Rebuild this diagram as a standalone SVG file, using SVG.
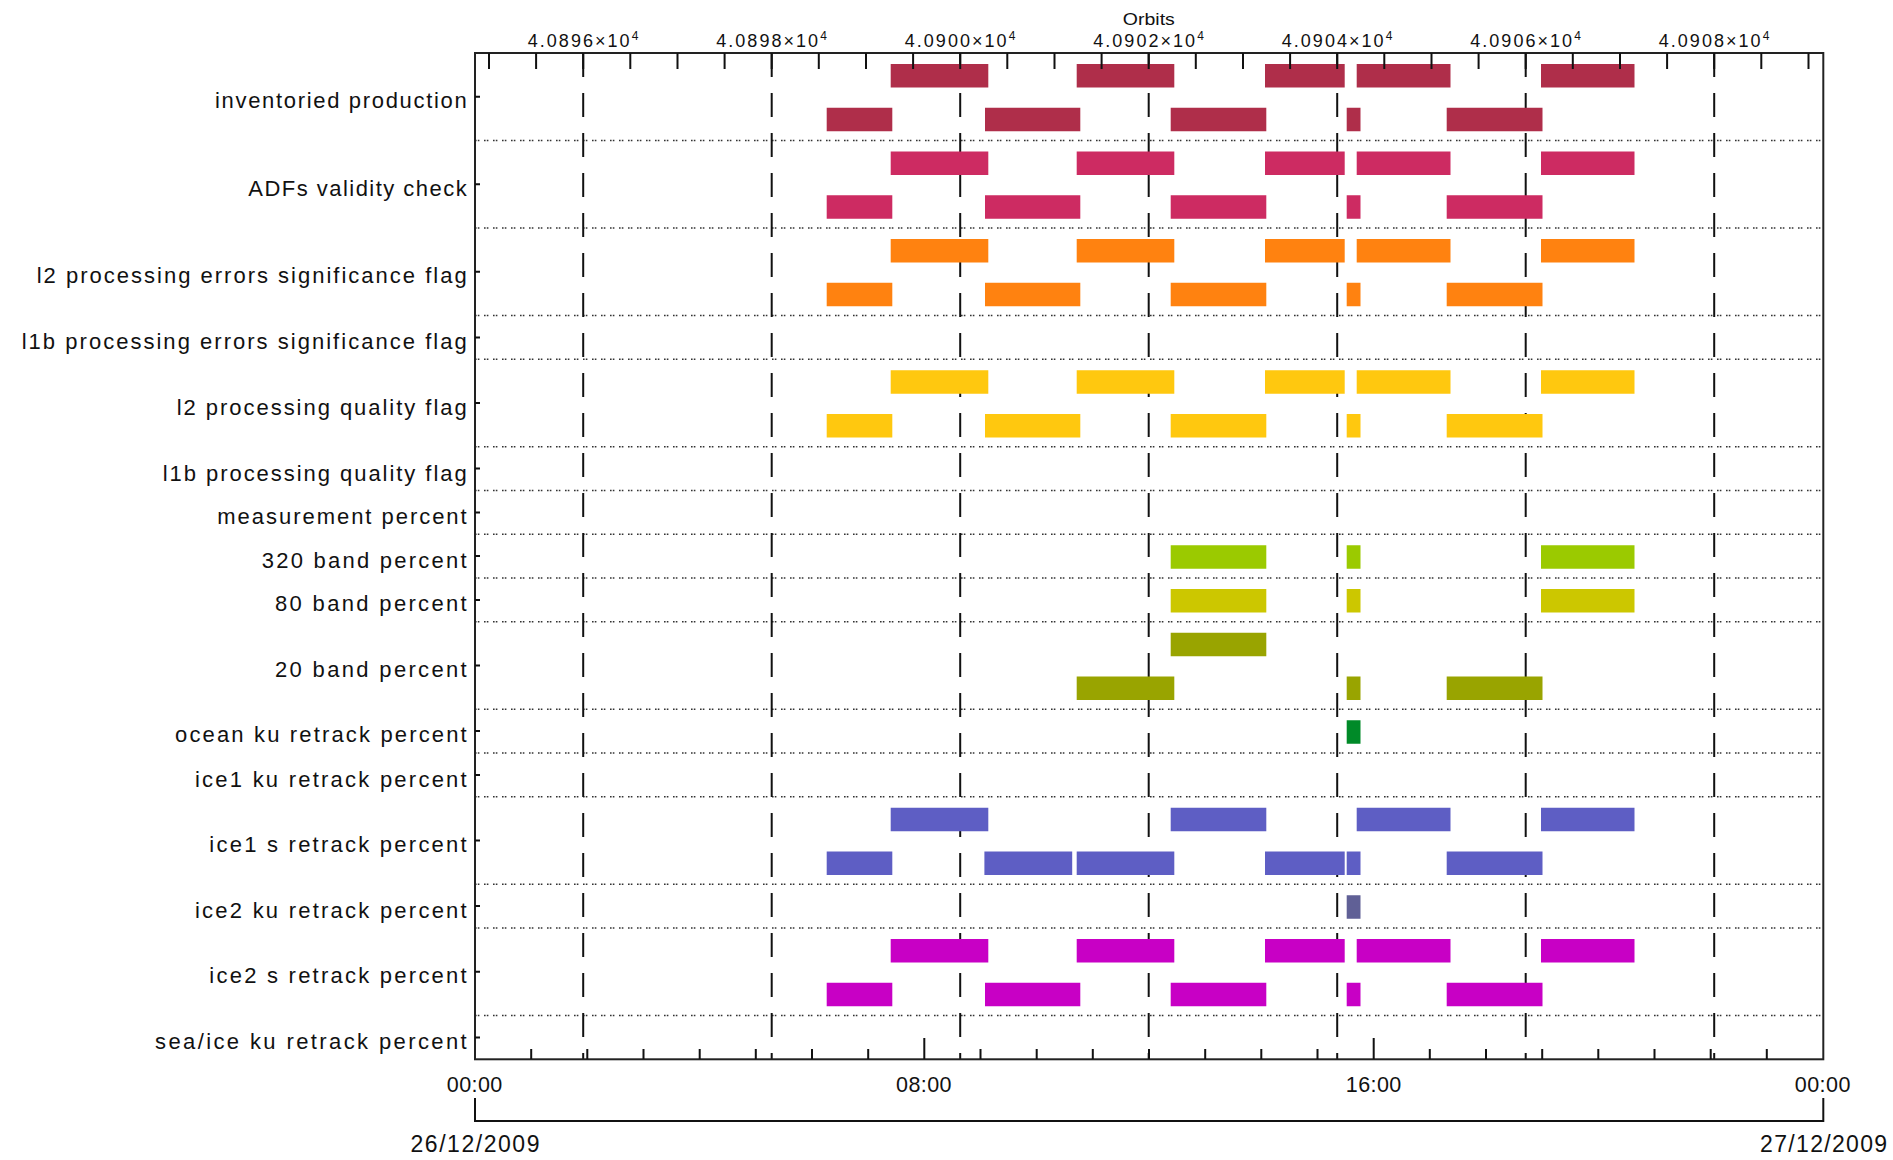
<svg xmlns="http://www.w3.org/2000/svg" width="1893" height="1160" viewBox="0 0 1893 1160">
<style>
text{font-family:"Liberation Sans","DejaVu Sans",Arial,sans-serif;fill:#111}
.lbl{font-size:22px;text-anchor:end}
.top{font-size:18px}
.sup{font-size:12px}
.tm{font-size:21.5px;text-anchor:middle}
.dt{font-size:23px;text-anchor:middle}
.dot{stroke:#333;stroke-width:1.6;stroke-dasharray:1.6 1.2 1.6 4.6;fill:none}
.dash{stroke:#111;stroke-width:2;stroke-dasharray:24 16;fill:none}
.tick{stroke:#111;stroke-width:2;fill:none}
.r1{fill:#AF2E4A}.r2{fill:#CD2B62}.r3{fill:#FF8210}.r5{fill:#FFC80F}
.r8{fill:#9BCA00}.r9{fill:#CCC700}.r10{fill:#99A400}.r11{fill:#008A28}
.r13{fill:#5E5EC4}.r14{fill:#606096}.r15{fill:#C800C5}
</style>
<rect width="1893" height="1160" fill="#fff"/>
<g id="grid">
<path class="dot" d="M475,140.5H1823M475,228H1823M475,315.5H1823M475,359.25H1823M475,446.75H1823M475,490.5H1823M475,534.25H1823M475,578H1823M475,621.75H1823M475,709.25H1823M475,753H1823M475,796.75H1823M475,884.25H1823M475,928H1823M475,1015.5H1823"/>
<path class="dash" d="M583.2,53V1059M771.7,53V1059M960.2,53V1059M1148.7,53V1059M1337.2,53V1059M1525.7,53V1059M1714.2,53V1059"/>
</g>
<g id="row-inventoried-production">
<rect class="r1" x="890.7" y="64" width="97.6" height="23.5"/><rect class="r1" x="1076.7" y="64" width="97.6" height="23.5"/><rect class="r1" x="1265" y="64" width="79.7" height="23.5"/><rect class="r1" x="1356.7" y="64" width="93.8" height="23.5"/><rect class="r1" x="1541" y="64" width="93.5" height="23.5"/>
<rect class="r1" x="826.7" y="107.75" width="65.6" height="23.5"/><rect class="r1" x="985" y="107.75" width="95.3" height="23.5"/><rect class="r1" x="1170.7" y="107.75" width="95.6" height="23.5"/><rect class="r1" x="1346.7" y="107.75" width="13.8" height="23.5"/><rect class="r1" x="1446.7" y="107.75" width="95.8" height="23.5"/>
</g>
<g id="row-adfs-validity-check">
<rect class="r2" x="890.7" y="151.5" width="97.6" height="23.5"/><rect class="r2" x="1076.7" y="151.5" width="97.6" height="23.5"/><rect class="r2" x="1265" y="151.5" width="79.7" height="23.5"/><rect class="r2" x="1356.7" y="151.5" width="93.8" height="23.5"/><rect class="r2" x="1541" y="151.5" width="93.5" height="23.5"/>
<rect class="r2" x="826.7" y="195.25" width="65.6" height="23.5"/><rect class="r2" x="985" y="195.25" width="95.3" height="23.5"/><rect class="r2" x="1170.7" y="195.25" width="95.6" height="23.5"/><rect class="r2" x="1346.7" y="195.25" width="13.8" height="23.5"/><rect class="r2" x="1446.7" y="195.25" width="95.8" height="23.5"/>
</g>
<g id="row-l2-processing-errors">
<rect class="r3" x="890.7" y="239" width="97.6" height="23.5"/><rect class="r3" x="1076.7" y="239" width="97.6" height="23.5"/><rect class="r3" x="1265" y="239" width="79.7" height="23.5"/><rect class="r3" x="1356.7" y="239" width="93.8" height="23.5"/><rect class="r3" x="1541" y="239" width="93.5" height="23.5"/>
<rect class="r3" x="826.7" y="282.75" width="65.6" height="23.5"/><rect class="r3" x="985" y="282.75" width="95.3" height="23.5"/><rect class="r3" x="1170.7" y="282.75" width="95.6" height="23.5"/><rect class="r3" x="1346.7" y="282.75" width="13.8" height="23.5"/><rect class="r3" x="1446.7" y="282.75" width="95.8" height="23.5"/>
</g>
<g id="row-l2-processing-quality">
<rect class="r5" x="890.7" y="370.25" width="97.6" height="23.5"/><rect class="r5" x="1076.7" y="370.25" width="97.6" height="23.5"/><rect class="r5" x="1265" y="370.25" width="79.7" height="23.5"/><rect class="r5" x="1356.7" y="370.25" width="93.8" height="23.5"/><rect class="r5" x="1541" y="370.25" width="93.5" height="23.5"/>
<rect class="r5" x="826.7" y="414" width="65.6" height="23.5"/><rect class="r5" x="985" y="414" width="95.3" height="23.5"/><rect class="r5" x="1170.7" y="414" width="95.6" height="23.5"/><rect class="r5" x="1346.7" y="414" width="13.8" height="23.5"/><rect class="r5" x="1446.7" y="414" width="95.8" height="23.5"/>
</g>
<g id="row-320-band">
<rect class="r8" x="1170.7" y="545.25" width="95.6" height="23.5"/><rect class="r8" x="1346.7" y="545.25" width="13.8" height="23.5"/><rect class="r8" x="1541" y="545.25" width="93.5" height="23.5"/>
</g>
<g id="row-80-band">
<rect class="r9" x="1170.7" y="589" width="95.6" height="23.5"/><rect class="r9" x="1346.7" y="589" width="13.8" height="23.5"/><rect class="r9" x="1541" y="589" width="93.5" height="23.5"/>
</g>
<g id="row-20-band">
<rect class="r10" x="1170.7" y="632.75" width="95.6" height="23.5"/>
<rect class="r10" x="1076.7" y="676.5" width="97.6" height="23.5"/><rect class="r10" x="1346.7" y="676.5" width="13.8" height="23.5"/><rect class="r10" x="1446.7" y="676.5" width="95.8" height="23.5"/>
</g>
<g id="row-ocean-ku">
<rect class="r11" x="1346.7" y="720.25" width="13.8" height="23.5"/>
</g>
<g id="row-ice1-s">
<rect class="r13" x="890.7" y="807.75" width="97.6" height="23.5"/><rect class="r13" x="1170.7" y="807.75" width="95.6" height="23.5"/><rect class="r13" x="1356.7" y="807.75" width="93.8" height="23.5"/><rect class="r13" x="1541" y="807.75" width="93.5" height="23.5"/>
<rect class="r13" x="826.7" y="851.5" width="65.6" height="23.5"/><rect class="r13" x="984.4" y="851.5" width="87.8" height="23.5"/><rect class="r13" x="1076.7" y="851.5" width="97.6" height="23.5"/><rect class="r13" x="1265" y="851.5" width="79.7" height="23.5"/><rect class="r13" x="1346.7" y="851.5" width="13.8" height="23.5"/><rect class="r13" x="1446.7" y="851.5" width="95.8" height="23.5"/>
</g>
<g id="row-ice2-ku">
<rect class="r14" x="1346.7" y="895.25" width="13.8" height="23.5"/>
</g>
<g id="row-ice2-s">
<rect class="r15" x="890.7" y="939" width="97.6" height="23.5"/><rect class="r15" x="1076.7" y="939" width="97.6" height="23.5"/><rect class="r15" x="1265" y="939" width="79.7" height="23.5"/><rect class="r15" x="1356.7" y="939" width="93.8" height="23.5"/><rect class="r15" x="1541" y="939" width="93.5" height="23.5"/>
<rect class="r15" x="826.7" y="982.75" width="65.6" height="23.5"/><rect class="r15" x="985" y="982.75" width="95.3" height="23.5"/><rect class="r15" x="1170.7" y="982.75" width="95.6" height="23.5"/><rect class="r15" x="1346.7" y="982.75" width="13.8" height="23.5"/><rect class="r15" x="1446.7" y="982.75" width="95.8" height="23.5"/>
</g>
<g id="axes">
<rect x="475" y="53" width="1348.3" height="1006.3" fill="none" stroke="#222" stroke-width="2"/>
<path class="tick" d="M489,53v16M536.1,53v16M583.2,53v16M630.3,53v16M677.5,53v16M724.6,53v16M771.7,53v16M818.8,53v16M866,53v16M913.1,53v16M960.2,53v16M1007.3,53v16M1054.5,53v16M1101.6,53v16M1148.7,53v16M1195.8,53v16M1243,53v16M1290.1,53v16M1337.2,53v16M1384.3,53v16M1431.5,53v16M1478.6,53v16M1525.7,53v16M1572.8,53v16M1620,53v16M1667.1,53v16M1714.2,53v16M1761.3,53v16M1808.5,53v16"/>
<path class="tick" d="M531.2,1059v-10M587.3,1059v-10M643.5,1059v-10M699.7,1059v-10M755.8,1059v-10M812,1059v-10M868.2,1059v-10M924.3,1059v-21M980.5,1059v-10M1036.7,1059v-10M1092.8,1059v-10M1149,1059v-10M1205.2,1059v-10M1261.3,1059v-10M1317.5,1059v-10M1373.7,1059v-21M1429.8,1059v-10M1486,1059v-10M1542.2,1059v-10M1598.3,1059v-10M1654.5,1059v-10M1710.7,1059v-10M1766.8,1059v-10"/>
<path class="tick" stroke-width="1.6" d="M475,96.75h5M475,184.25h5M475,271.75h5M475,337.4h5M475,403h5M475,468.6h5M475,512.4h5M475,556.1h5M475,599.9h5M475,665.5h5M475,731.1h5M475,774.9h5M475,840.5h5M475,906.1h5M475,971.75h5M475,1037.4h5"/>
<path class="tick" d="M475,1098V1121H1823.3V1098"/>
</g>
<g id="top-labels">
<text x="1148.8" y="25.4" text-anchor="middle" textLength="52" lengthAdjust="spacingAndGlyphs" style="font-size:17px">Orbits</text>
<text class="top" x="527.8" y="46.5" textLength="101.7">4.0896×10</text><text class="sup" x="631.8" y="40">4</text>
<text class="top" x="716.3" y="46.5" textLength="101.7">4.0898×10</text><text class="sup" x="820.3" y="40">4</text>
<text class="top" x="904.8" y="46.5" textLength="101.7">4.0900×10</text><text class="sup" x="1008.8" y="40">4</text>
<text class="top" x="1093.3" y="46.5" textLength="101.7">4.0902×10</text><text class="sup" x="1197.3" y="40">4</text>
<text class="top" x="1281.8" y="46.5" textLength="101.7">4.0904×10</text><text class="sup" x="1385.8" y="40">4</text>
<text class="top" x="1470.3" y="46.5" textLength="101.7">4.0906×10</text><text class="sup" x="1574.3" y="40">4</text>
<text class="top" x="1658.8" y="46.5" textLength="101.7">4.0908×10</text><text class="sup" x="1762.8" y="40">4</text>
</g>
<g id="row-labels">
<text class="lbl" x="466.7" y="108.3" textLength="251.7">inventoried production</text>
<text class="lbl" x="466.7" y="195.5" textLength="218.4">ADFs validity check</text>
<text class="lbl" x="466.7" y="282.5" textLength="430">l2 processing errors significance flag</text>
<text class="lbl" x="466.7" y="348.6" textLength="445">l1b processing errors significance flag</text>
<text class="lbl" x="466.7" y="414.8" textLength="290">l2 processing quality flag</text>
<text class="lbl" x="466.7" y="480.9" textLength="304">l1b processing quality flag</text>
<text class="lbl" x="466.7" y="524.1" textLength="249.4">measurement percent</text>
<text class="lbl" x="466.7" y="568" textLength="205">320 band percent</text>
<text class="lbl" x="466.7" y="610.7" textLength="191.7">80 band percent</text>
<text class="lbl" x="466.7" y="676.8" textLength="191.7">20 band percent</text>
<text class="lbl" x="466.7" y="742.2" textLength="291.7">ocean ku retrack percent</text>
<text class="lbl" x="466.7" y="786.5" textLength="271.7">ice1 ku retrack percent</text>
<text class="lbl" x="466.7" y="851.8" textLength="257.4">ice1 s retrack percent</text>
<text class="lbl" x="466.7" y="918" textLength="271.7">ice2 ku retrack percent</text>
<text class="lbl" x="466.7" y="982.8" textLength="257.4">ice2 s retrack percent</text>
<text class="lbl" x="466.7" y="1048.6" textLength="311.7">sea/ice ku retrack percent</text>
</g>
<g id="time-labels">
<text class="tm" x="474.5" y="1091.5" textLength="55.5">00:00</text>
<text class="tm" x="923.8" y="1091.5" textLength="55.5">08:00</text>
<text class="tm" x="1373.5" y="1091.5" textLength="55.5">16:00</text>
<text class="tm" x="1822.6" y="1091.5" textLength="55.5">00:00</text>
<text class="dt" x="475" y="1151.5" textLength="129">26/12/2009</text>
<text class="dt" x="1823.6" y="1151.5" textLength="127">27/12/2009</text>
</g>
</svg>
